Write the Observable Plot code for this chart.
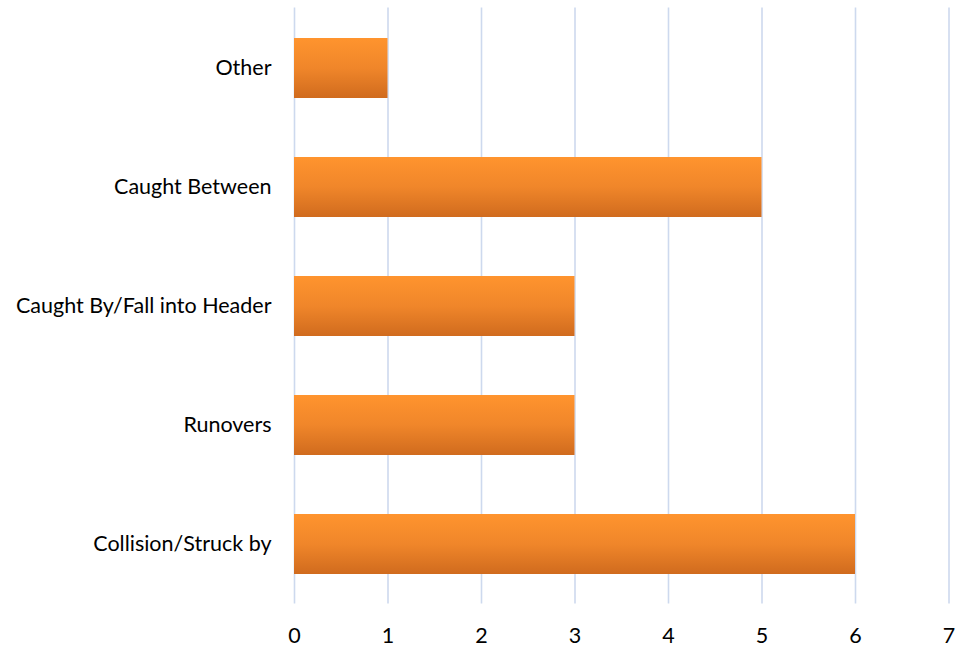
<!DOCTYPE html>
<html>
<head>
<meta charset="utf-8">
<script src="https://cdn.jsdelivr.net/npm/d3@7"></script>
<script src="https://cdn.jsdelivr.net/npm/@observablehq/plot@0.6"></script>
<style>
  html, body { margin: 0; padding: 0; background: #fff; }
  #chart svg { display: block; }
</style>
</head>
<body>
<div id="chart"></div>
<script>
const categories = ["Other", "Caught Between", "Caught By/Fall into Header", "Runovers", "Collision/Struck by"];
const counts = [1, 5, 3, 3, 6];
const xTicks = [0, 1, 2, 3, 4, 5, 6, 7];

const data = categories.map((c, i) => ({category: c, count: counts[i]}));

const chart = Plot.plot({
  width: 958,
  height: 649,
  marginTop: 7.5,
  marginBottom: 45.5,
  marginLeft: 294,
  marginRight: 9.5,
  style: {fontFamily: "Lato, 'Open Sans', sans-serif", fontSize: "21.5px", color: "#000", background: "#fff"},
  x: {domain: [0, 7], ticks: xTicks, tickSize: 0, tickPadding: 24, label: null, tickFormat: d => String(d)},
  y: {domain: categories, paddingInner: 0.5, paddingOuter: 0.25, tickSize: 0, tickPadding: 23, label: null},
  marks: [
    Plot.ruleX(xTicks, {stroke: "#cdd9ee", strokeWidth: 1.6}),
    Plot.barX(data, {x: "count", y: "category", fill: "url(#barGrad)", style: "filter: drop-shadow(2px 3px 2.5px rgba(0,0,0,0.28))"})
  ]
});

const svgNS = "http://www.w3.org/2000/svg";
const defs = document.createElementNS(svgNS, "defs");
defs.innerHTML = `<linearGradient id="barGrad" x1="0" y1="0" x2="0" y2="1">
  <stop offset="0%" stop-color="#ff942e"/>
  <stop offset="50%" stop-color="#f0862a"/>
  <stop offset="100%" stop-color="#d06b1e"/>
</linearGradient>`;
chart.insertBefore(defs, chart.firstChild);
document.getElementById("chart").appendChild(chart);
</script>
</body>
</html>
